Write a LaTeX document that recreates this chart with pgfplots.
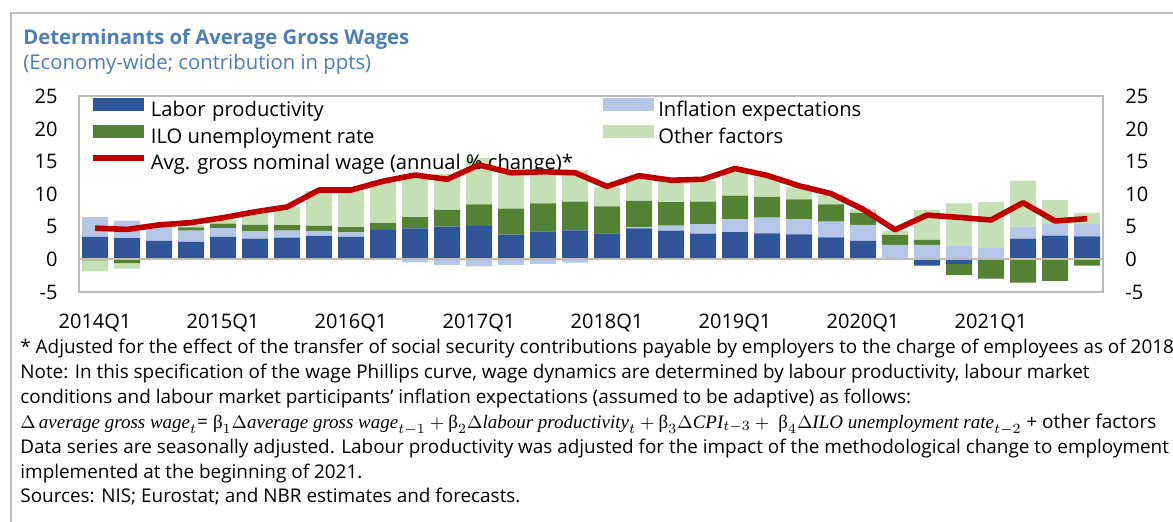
\documentclass[border=0pt]{standalone}
\usepackage{fontspec}
\setmainfont{Open Sans}
\newfontfamily\eqserif{Liberation Serif}
\usepackage{pgfplots}
\usepackage{pgfplotstable}
\pgfplotsset{compat=1.18}

\definecolor{cLP}{HTML}{2F5597}
\definecolor{cINF}{HTML}{B4C7E7}
\definecolor{cILO}{HTML}{548235}
\definecolor{cOTH}{HTML}{C5E0B4}
\definecolor{cWAGE}{HTML}{C00000}
\definecolor{titleblue}{HTML}{4A7EB5}
\definecolor{framegray}{HTML}{BCBCBC}

\newcommand{\ticksize}{\fontsize{10}{11.5}\selectfont}
\newcommand{\legsize}{\fontsize{10.1}{11.5}\selectfont}
\newcommand{\notesize}{\fontsize{9.45}{11}\selectfont}
\newcommand{\eqit}[1]{\mbox{\eqserif\itshape #1}}
\newcommand{\bb}[1]{\mbox{\eqserif β}_{#1}}

% positive contributions
\pgfplotstableread{
x lp inf ilo oth
0 3.45 3.05 0 0
1 3.25 2.70 0 0
2 2.85 2.20 0 0
3 2.70 1.70 0.50 0.40
4 3.45 1.35 0.70 0.65
5 3.20 1.15 0.95 1.70
6 3.35 1.05 0.85 2.80
7 3.60 0.77 0.76 5.40
8 3.45 0.70 0.80 5.65
9 4.52 0 1.10 6.45
10 4.75 0 1.75 6.10
11 5.05 0 2.55 5.50
12 5.15 0 3.30 7.10
13 3.80 0 4.00 5.70
14 4.30 0 4.30 5.00
15 4.45 0 4.40 4.80
16 4.00 0 4.15 2.90
17 4.75 0.25 4.00 3.70
18 4.40 0.80 3.60 3.20
19 3.95 1.45 3.45 3.20
20 4.20 2.00 3.60 3.80
21 4.00 2.40 3.20 3.05
22 3.85 2.35 3.00 1.90
23 3.40 2.40 2.65 1.55
24 2.85 2.45 1.85 0.55
25 0 2.25 1.50 0.65
26 0 2.25 0.75 4.60
27 0 2.10 0 6.50
28 0 1.85 0 6.95
29 3.20 1.85 0 7.05
30 3.65 1.75 0 3.70
31 3.55 1.85 0 1.75
}\postable

% negative contributions
\pgfplotstableread{
x lp inf ilo oth
0 0 0 -0.15 -1.70
1 0 0 -0.55 -0.85
2 0 0 0 0
3 0 0 0 0
4 0 0 0 0
5 0 0 0 0
6 0 0 0 0
7 0 0 0 0
8 0 0 0 0
9 0 0 0 0
10 0 -0.45 0 0
11 0 -0.85 0 0
12 0 -1.05 0 0
13 0 -0.85 0 0
14 0 -0.70 0 0
15 0 -0.50 0 0
16 0 0 0 0
17 0 0 0 0
18 0 0 0 0
19 0 0 0 0
20 0 0 0 0
21 0 0 0 0
22 0 0 0 0
23 0 0 0 0
24 0 0 0 0
25 0 0 0 0
26 -0.95 0 0 0
27 -0.70 0 -1.70 0
28 0 0 -2.95 0
29 0 0 -3.55 0
30 0 0 -3.30 0
31 0 0 -0.95 0
}\negtable

\pgfplotstableread{
x wage
0 4.80
1 4.60
2 5.30
3 5.65
4 6.40
5 7.30
6 8.05
7 10.65
8 10.65
9 12.00
10 12.95
11 12.30
12 14.50
13 13.30
14 13.45
15 13.30
16 11.20
17 12.85
18 12.15
19 12.30
20 13.95
21 12.90
22 11.30
23 10.10
24 7.70
25 4.55
26 6.80
27 6.45
28 6.05
29 8.70
30 5.90
31 6.25
}\wagetable

\pgfplotsset{
  mybase/.style={
    scale only axis, width=512pt, height=97.75pt,
    at={(39.5pt,114.5pt)}, anchor=south west,
    xmin=-0.5, xmax=31.5, ymin=-5, ymax=25,
  },
  barleg/.style={legend image code/.code={\fill[##1] (0pt,0pt) rectangle (25.7pt,6.6pt);}},
}

\begin{document}
\begin{tikzpicture}
\useasboundingbox (0,0) rectangle (586.5pt,260.5pt);
\clip (0,0) rectangle (586.5pt,260.5pt);
\draw[framegray, line width=1pt] (5.5pt,-2pt) -- (5.5pt,254pt) -- (600pt,254pt);
\node[anchor=base west, inner sep=0pt, text=titleblue, font=\fontsize{10.15}{12}\selectfont\bfseries] at (11.5pt,238.5pt) {Determinants of Average Gross Wages};
\node[anchor=base west, inner sep=0pt, text=titleblue, font=\fontsize{10.15}{12}\selectfont] at (11.5pt,225.75pt) {(Economy-wide; contribution in ppts)};

% positive bars + frame + left labels + legend
\begin{axis}[mybase,
  ybar stacked, bar width=13pt,
  axis line style={framegray, line width=1pt},
  tick style={draw=none},
  ytick={-5,0,5,10,15,20,25},
  yticklabels={-5,0,5,10,15,20,25},
  xtick={0,4,8,12,16,20,24,28},
  xticklabels={2014Q1,2015Q1,2016Q1,2017Q1,2018Q1,2019Q1,2020Q1,2021Q1},
  tick label style={font=\ticksize, inner sep=0pt},
  yticklabel shift=10.5pt,
  xticklabel shift=11pt,
  legend columns=2,
  legend cell align=left,
  legend style={draw=none, fill=none, inner sep=0pt, outer sep=0pt,
    at={(0.0107,0.9908)}, anchor=north west,
    font=\legsize, column sep=2pt, row sep=2.2pt,
    nodes={inner sep=0pt, text height=7pt, text depth=2pt}},
]
\addplot[fill=cLP, draw=none, barleg] table[x=x, y=lp] {\postable};
\addlegendentry[text width=224pt]{Labor productivity}
\addplot[fill=cINF, draw=none, barleg] table[x=x, y=inf] {\postable};
\addlegendentry{Inflation expectations}
\addplot[fill=cILO, draw=none, barleg] table[x=x, y=ilo] {\postable};
\addlegendentry{ILO unemployment rate}
\addplot[fill=cOTH, draw=none, barleg] table[x=x, y=oth] {\postable};
\addlegendentry{Other factors}
\addlegendimage{legend image code/.code={\path[draw=none, fill=none] (0pt,0pt) rectangle (25.7pt,6.6pt); \draw[cWAGE, line width=2.8pt] (0pt,3.3pt) -- (25.7pt,3.3pt);}}
\addlegendentry{Avg. gross nominal wage (annual \% change)*}
\end{axis}

% negative bars
\begin{axis}[mybase, hide axis, ybar stacked, bar width=13pt]
\addplot[fill=cLP, draw=none] table[x=x, y=lp] {\negtable};
\addplot[fill=cINF, draw=none] table[x=x, y=inf] {\negtable};
\addplot[fill=cILO, draw=none] table[x=x, y=ilo] {\negtable};
\addplot[fill=cOTH, draw=none] table[x=x, y=oth] {\negtable};
\end{axis}

% wage line, zero line, right labels
\begin{axis}[mybase,
  axis line style={draw=none},
  tick style={draw=none},
  xtick=\empty,
  ytick={-5,0,5,10,15,20,25},
  yticklabels={-5,0,5,10,15,20,25},
  yticklabel pos=right,
  tick label style={font=\ticksize, inner sep=0pt},
  yticklabel shift=11pt,
  extra y ticks={0},
  extra y tick labels={},
  extra y tick style={grid=major, major grid style={framegray, line width=1pt}},
]
\addplot[cWAGE, line width=2.8pt, line join=round, mark=none] table[x=x, y=wage] {\wagetable};
\end{axis}

\begin{scope}[every node/.style={anchor=base west, inner sep=0pt, font=\notesize}]
\node at (10pt,83.75pt) {* Adjusted for the effect of the transfer of social security contributions payable by employers to the charge of employees as of 2018};
\node at (10pt,71.5pt) {Note: In this specification of the wage Phillips curve, wage dynamics are determined by labour productivity, labour market};
\node at (10pt,59pt) {conditions and labour market participants’ inflation expectations (assumed to be adaptive) as follows:};
\node[font=\fontsize{9.5}{11}\selectfont] at (10pt,46.5pt) {$\Delta\,\eqit{average gross wage}_t$= $\bb{1}\Delta\eqit{average gross wage}_{t-1} + \bb{2}\Delta\eqit{labour productivity}_t + \bb{3}\Delta\eqit{CPI}_{t-3} +\ \bb{4}\Delta\eqit{ILO unemployment rate}_{t-2}$ + other factors};
\node at (10pt,34pt) {Data series are seasonally adjusted. Labour productivity was adjusted for the impact of the methodological change to employment};
\node at (10pt,21.5pt) {implemented at the beginning of 2021.};
\node at (10pt,9.25pt) {Sources: NIS; Eurostat; and NBR estimates and forecasts.};
\end{scope}
\end{tikzpicture}
\end{document}
